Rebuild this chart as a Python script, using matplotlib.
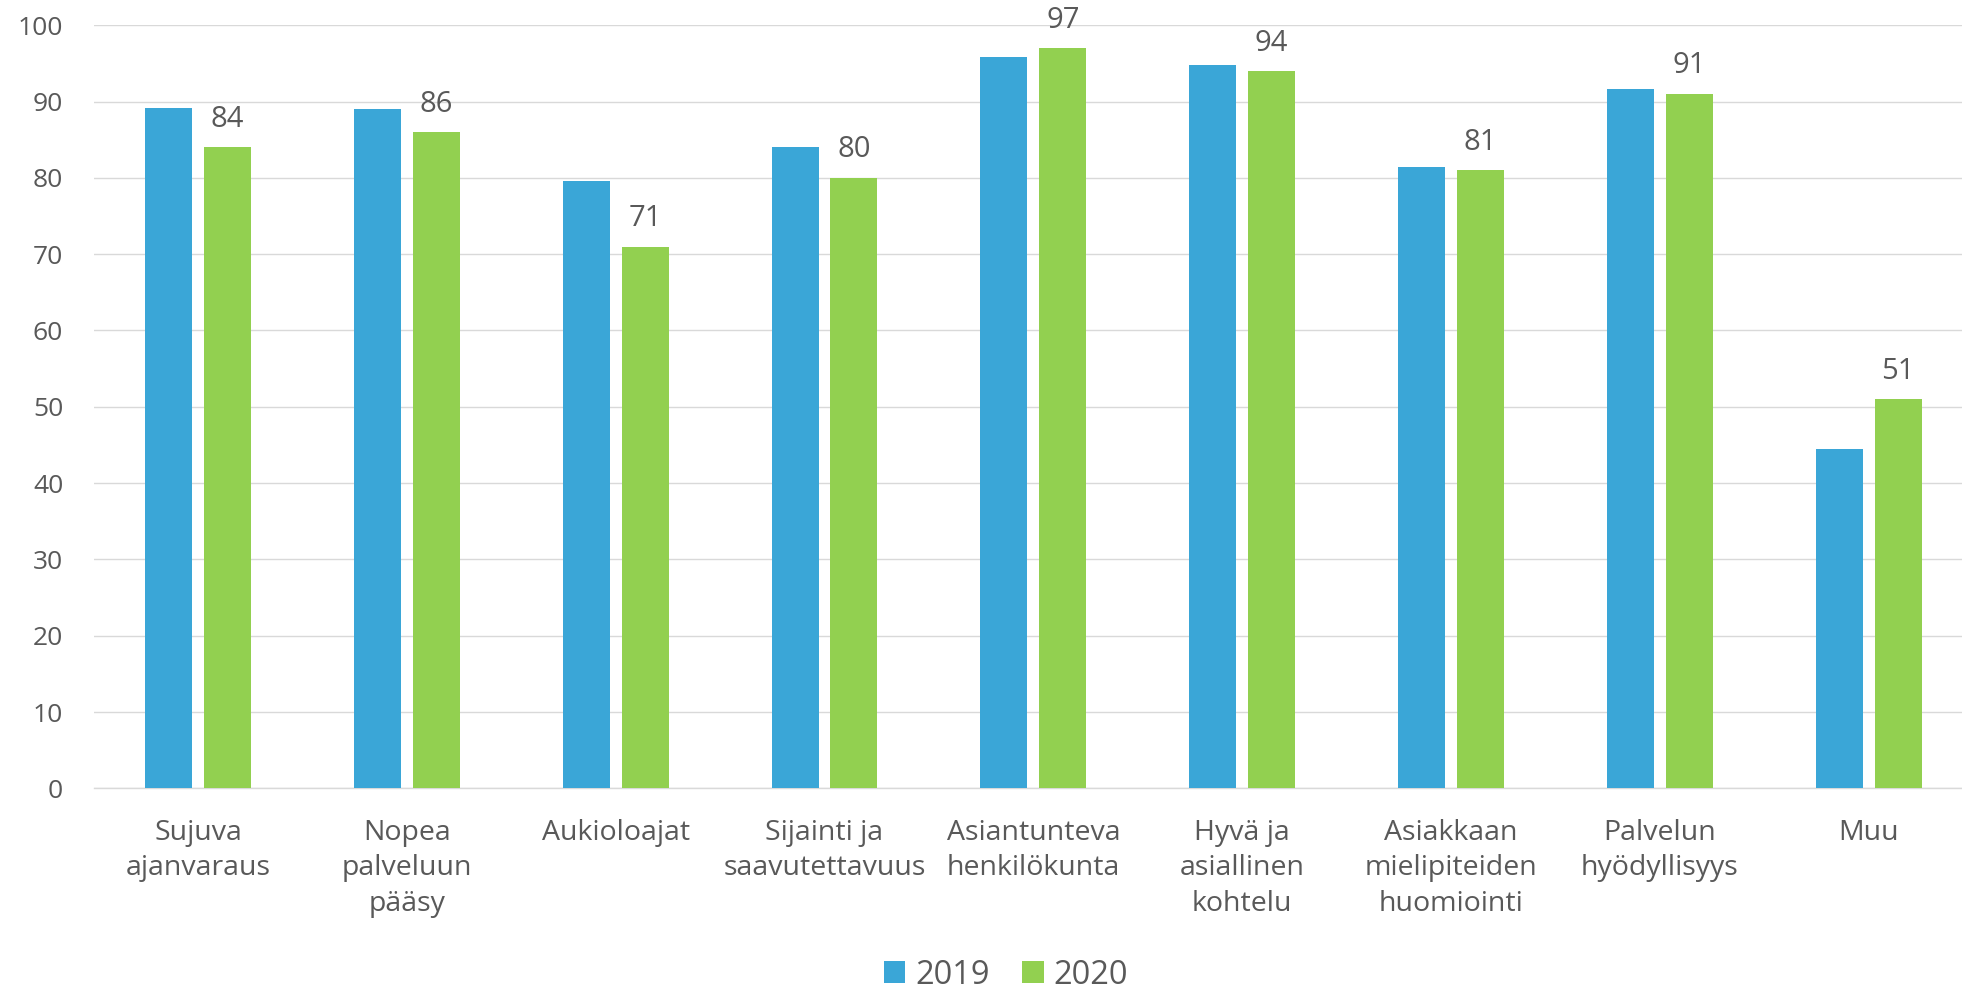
import matplotlib
matplotlib.use('Agg')
import matplotlib.pyplot as plt
import numpy as np

plt.rcParams['font.family'] = ['Open Sans', 'DejaVu Sans']

categories = ['Sujuva\najanvaraus', 'Nopea\npalveluun\npääsy', 'Aukioloajat',
              'Sijainti ja\nsaavutettavuus', 'Asiantunteva\nhenkilökunta',
              'Hyvä ja\nasiallinen\nkohtelu', 'Asiakkaan\nmielipiteiden\nhuomiointi',
              'Palvelun\nhyödyllisyys', 'Muu']
values_2019 = [89.2, 89.0, 79.6, 84.0, 95.8, 94.8, 81.4, 91.7, 44.5]
values_2020 = [84, 86, 71, 80, 97, 94, 81, 91, 51]
series_names = ['2019', '2020']

blue = '#3AA6D7'
green = '#92D050'
text_color = '#595959'
grid_color = '#D9D9D9'

W, H = 1962, 990
fig = plt.figure(figsize=(W / 100, H / 100), dpi=100)
ax = fig.add_axes([93.7 / W, 1 - 788.3 / H, (1973 - 93.7) / W, 763 / H])

x = np.arange(len(categories))
bw = 0.225
off = 0.141
ax.bar(x - off, values_2019, bw, color=blue, label=series_names[0], zorder=3)
ax.bar(x + off, values_2020, bw, color=green, label=series_names[1], zorder=3)

# only the 2020 bars carry value labels
for xi, v in zip(x + off, values_2020):
    ax.annotate(str(v), (xi, v), xytext=(0, 14.8), textcoords='offset points',
                ha='center', va='baseline', fontsize=21, color=text_color)

ax.set_xlim(-0.5, 8.5)
ax.set_ylim(0, 100)
ax.set_yticks(np.arange(0, 101, 10))
ax.set_xticks(x)
ax.set_xticklabels(categories, fontsize=20.5, color=text_color, linespacing=1.36)
ax.tick_params(axis='y', labelsize=19, labelcolor=text_color, length=0, pad=22)
ax.tick_params(axis='x', length=0, pad=22)
ax.grid(axis='y', color=grid_color, linewidth=1.0, zorder=0)
for s in ['top', 'right', 'left']:
    ax.spines[s].set_visible(False)
ax.spines['bottom'].set_color(grid_color)
ax.spines['bottom'].set_linewidth(1.0)

fig.legend(loc='center', bbox_to_anchor=(1006 / W, 1 - 975 / H), ncol=2, frameon=False,
           fontsize=23.5, labelcolor=text_color, handlelength=0.65, handleheight=0.65,
           handletextpad=0.3, columnspacing=1.0)

fig.savefig('out.png', dpi=100)
